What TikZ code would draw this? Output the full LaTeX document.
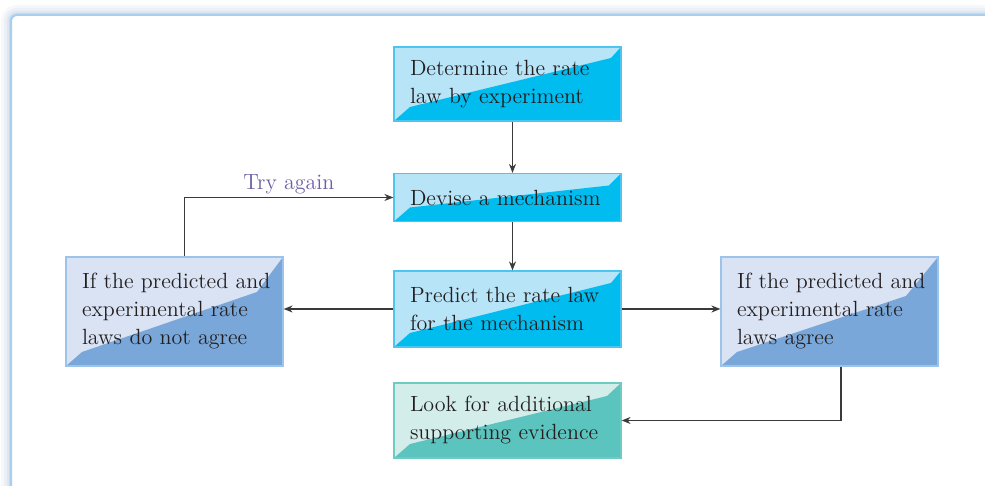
\documentclass[tikz,border=0pt]{standalone}
\usetikzlibrary{arrows.meta,calc}
\definecolor{cyanlight}{HTML}{B8E4F8}
\definecolor{cyandark}{HTML}{00BCEF}
\definecolor{cyanedge}{HTML}{4CC6F0}
\definecolor{bluelight}{HTML}{D9E3F4}
\definecolor{bluedark}{HTML}{7AA7D9}
\definecolor{blueedge}{HTML}{9CC3EA}
\definecolor{teallight}{HTML}{D3EEEA}
\definecolor{tealdark}{HTML}{5BC4BF}
\definecolor{tealedge}{HTML}{6ECBC4}
\definecolor{inkgray}{HTML}{231F20}
\definecolor{linegray}{HTML}{3A3A3A}
\definecolor{tryviolet}{HTML}{6E5FA8}
\definecolor{frameedge}{HTML}{A9CFF0}
\definecolor{frameglow}{HTML}{7C9CC4}

\begin{document}
\begin{tikzpicture}[x=0.5pt,y=0.5pt,
    stage/.style n args={3}{draw=#1edge, fill=#1light, line width=0.6pt,
      text=inkgray, font=\fontsize{11}{14}\selectfont, align=left,
      inner xsep=8pt, inner ysep=0pt,
      path picture={\fill[#1dark] (path picture bounding box.south west) -- ++(8pt,7pt)
        -- ($(path picture bounding box.north east)+(-#2pt,-#3pt)$)
        -- (path picture bounding box.north east)
        -- (path picture bounding box.south east) -- cycle;}},
    flow/.style={draw=linegray, line width=0.7pt, -{Stealth[length=4.5pt,width=3.5pt]}}]
    \useasboundingbox (0,0) rectangle (985,486);
    % Panel frame with soft glow, cut at the page edge
    \begin{scope}
      \clip (0,0) rectangle (985,486);
      \foreach \w/\o in {10/0.07, 7/0.09, 4/0.12, 2/0.18}
        \draw[frameglow, line width=\w pt, opacity=\o, rounded corners=3pt] (11,471) rectangle (1010,-30);
      \draw[frameedge, line width=1pt, fill=white, rounded corners=3pt] (11,471) rectangle (1010,-30);
    \end{scope}
    % Steps of the procedure
    \node[stage={cyan}{5}{5.5}, text width=97.5pt, minimum height=37pt] (det) at (507.5,402)
      {Determine the rate\\law by experiment};
    \node[stage={cyan}{6}{6}, text width=97.5pt, minimum height=24pt] (devise) at (507.5,288.5)
      {Devise a mechanism};
    \node[stage={cyan}{5}{6}, text width=97.5pt, minimum height=38pt] (predict) at (507.5,177)
      {Predict the rate law\\for the mechanism};
    \node[stage={blue}{13}{17.5}, text width=92.5pt, minimum height=54.5pt] (notagree) at (174.5,174.5)
      {\mbox{If the predicted and}\\experimental rate\\laws do not agree};
    \node[stage={blue}{16}{19.5}, text width=92.5pt, minimum height=54.5pt] (agree) at (829.5,174.5)
      {\mbox{If the predicted and}\\experimental rate\\laws agree};
    \node[stage={teal}{7}{6.5}, text width=97.5pt, minimum height=37.5pt] (evidence) at (507.5,65.5)
      {Look for additional\\supporting evidence};
    % Connectors
    \draw[flow] ([xshift=2.5pt]det.south) -- ([xshift=2.5pt]devise.north);
    \draw[flow] ([xshift=2.5pt]devise.south) -- ([xshift=2.5pt]predict.north);
    \draw[flow] (predict.west) -- (predict.west -| notagree.east);
    \draw[flow] (predict.east) -- (predict.east -| agree.west);
    \draw[flow] ([xshift=5pt]notagree.north) |- node[pos=0.75, above=1.5pt, inner sep=0pt,
      text=tryviolet, font=\fontsize{11}{14}\selectfont] (retry) {Try again} (devise.west);
    \draw[flow] ([xshift=5.75pt]agree.south) |- (evidence.east);
  \end{tikzpicture}
\end{document}
